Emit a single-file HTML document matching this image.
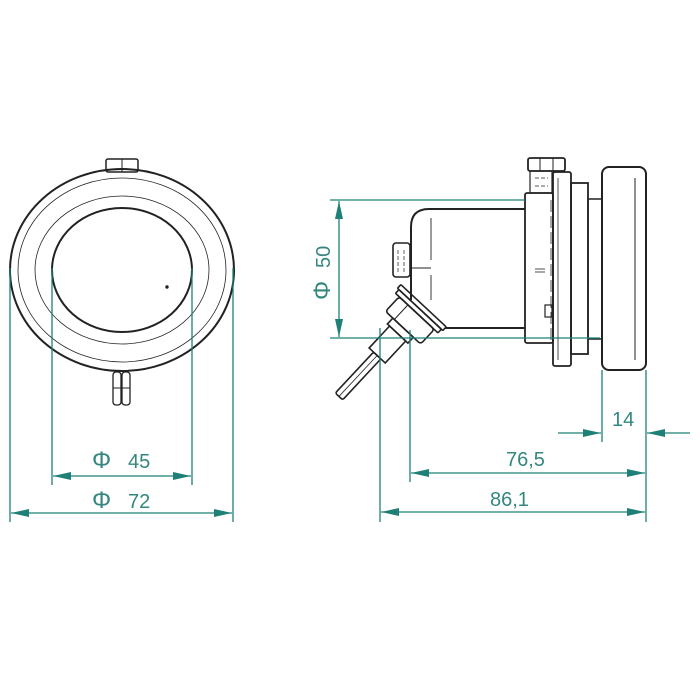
<!DOCTYPE html>
<html><head><style>html,body{margin:0;padding:0;background:#fff}svg{display:block}</style></head>
<body>
<svg width="700" height="700" viewBox="0 0 700 700" xmlns="http://www.w3.org/2000/svg">
<defs>
<marker id="a" viewBox="0 0 18 8" refX="18" refY="4" markerWidth="18" markerHeight="8" markerUnits="userSpaceOnUse" orient="auto-start-reverse">
<path d="M0,0 L18,4 L0,8 Z" fill="#1f8078"/></marker>
</defs>
<g fill="none" stroke="#222">
<rect x="106" y="159" width="32" height="13" rx="2" stroke-width="1.5"/>
<line x1="122" y1="159" x2="122" y2="172" stroke-width="1"/>
<ellipse cx="122" cy="270" rx="112" ry="101" stroke-width="2"/>
<ellipse cx="122" cy="270" rx="104" ry="92" stroke-width="0.8"/>
<ellipse cx="122" cy="270" rx="87" ry="74" stroke-width="0.8"/>
<ellipse cx="122" cy="270" rx="70" ry="62" stroke-width="2"/>
<circle cx="167" cy="287" r="1.2" fill="#222"/>
<rect x="113" y="372" width="8" height="33" rx="3" stroke-width="1.3"/>
<rect x="122" y="372" width="8" height="33" rx="3" stroke-width="1.3"/>
<line x1="113" y1="388" x2="130" y2="388" stroke-width="1"/>
<rect x="602" y="167" width="44" height="203" rx="7" stroke-width="2"/>
<line x1="635" y1="178" x2="635" y2="360" stroke-width="1"/>
<rect x="588" y="199" width="14" height="140" stroke-width="1.5"/>
<rect x="571" y="183" width="17" height="171" stroke-width="1.8"/>
<rect x="553" y="172" width="18" height="194" rx="2" stroke-width="1.8"/>
<line x1="558" y1="178" x2="558" y2="360" stroke-width="0.8"/>
<rect x="525" y="193" width="28" height="150" rx="2" stroke-width="1.8"/>
<line x1="551" y1="200" x2="551" y2="340" stroke-width="0.8" stroke-dasharray="12,4"/>
<line x1="535" y1="269" x2="545" y2="269" stroke-width="0.8"/>
<line x1="535" y1="272" x2="545" y2="272" stroke-width="0.8"/>
<rect x="545" y="305" width="7" height="12" stroke-width="1.2"/>
<rect x="530" y="171" width="22" height="22" stroke-width="1.2"/>
<line x1="535" y1="178" x2="548" y2="178" stroke-width="0.8" stroke-dasharray="4,2"/>
<line x1="535" y1="186" x2="548" y2="186" stroke-width="0.8" stroke-dasharray="4,2"/>
<rect x="528" y="158" width="37" height="13" rx="2" stroke-width="1.8"/>
<line x1="540" y1="158" x2="540" y2="171" stroke-width="1"/>
<line x1="553" y1="158" x2="553" y2="171" stroke-width="1"/>
<path d="M525,209 L429,209 Q411,209 411,227 L411,300 M445,328 L525,328" stroke-width="2"/>
<line x1="431" y1="218" x2="431" y2="260" stroke-width="0.9"/>
<line x1="431" y1="275" x2="431" y2="300" stroke-width="0.9"/>
<line x1="411" y1="268" x2="431" y2="268" stroke-width="1"/>
<rect x="393" y="243" width="17" height="34" rx="3" stroke-width="1.6"/>
<line x1="398" y1="250" x2="398" y2="272" stroke-width="0.7" stroke-dasharray="4,2"/>
<line x1="404" y1="250" x2="404" y2="272" stroke-width="0.7" stroke-dasharray="4,2"/>
<g transform="translate(414,316) rotate(43)" stroke-width="1.6">
<rect x="-31" y="-14" width="62" height="5" rx="1"/>
<rect x="-29" y="-9" width="58" height="5" rx="1"/>
<rect x="-24" y="-4" width="48" height="20" rx="3"/>
<line x1="-12" y1="-4" x2="-12" y2="16" stroke-width="1"/>
<rect x="-14" y="16" width="28" height="8"/>
<rect x="-11" y="24" width="22" height="30"/>
<rect x="-5" y="54" width="10" height="56" rx="2"/>
<line x1="0" y1="54" x2="0" y2="110" stroke-width="0.8"/>
</g>
</g>
<g stroke="#1f8078" stroke-width="1.3" fill="none">
<line x1="10" y1="268" x2="10" y2="522"/>
<line x1="233" y1="268" x2="233" y2="522"/>
<line x1="52" y1="268" x2="52" y2="485"/>
<line x1="192" y1="268" x2="192" y2="485"/>
<line x1="53" y1="476" x2="191" y2="476" marker-start="url(#a)" marker-end="url(#a)"/>
<line x1="11" y1="513" x2="232" y2="513" marker-start="url(#a)" marker-end="url(#a)"/>
<line x1="330" y1="200" x2="525" y2="200"/>
<line x1="330" y1="338" x2="600" y2="338"/>
<line x1="339" y1="201" x2="339" y2="337" marker-start="url(#a)" marker-end="url(#a)"/>
<line x1="602" y1="370" x2="602" y2="442"/>
<line x1="646" y1="370" x2="646" y2="522"/>
<line x1="410" y1="330" x2="410" y2="482"/>
<line x1="380" y1="328" x2="380" y2="522"/>
<line x1="558" y1="433" x2="601" y2="433" marker-end="url(#a)"/>
<line x1="690" y1="433" x2="647" y2="433" marker-end="url(#a)"/>
<line x1="411" y1="473" x2="645" y2="473" marker-start="url(#a)" marker-end="url(#a)"/>
<line x1="381" y1="512" x2="645" y2="512" marker-start="url(#a)" marker-end="url(#a)"/>
</g>
<g fill="#34877f" font-family="Liberation Sans, DejaVu Sans, sans-serif" font-size="20">
<text x="92" y="468" font-size="24">Φ</text><text x="128" y="468">45</text>
<text x="92" y="508" font-size="24">Φ</text><text x="128" y="508">72</text>
<text x="612" y="426">14</text>
<text x="506" y="466">76,5</text>
<text x="490" y="506">86,1</text>
<text transform="translate(330,300) rotate(-90)" font-size="24">Φ</text>
<text transform="translate(330,268) rotate(-90)">50</text>
</g>
</svg>
</body></html>
